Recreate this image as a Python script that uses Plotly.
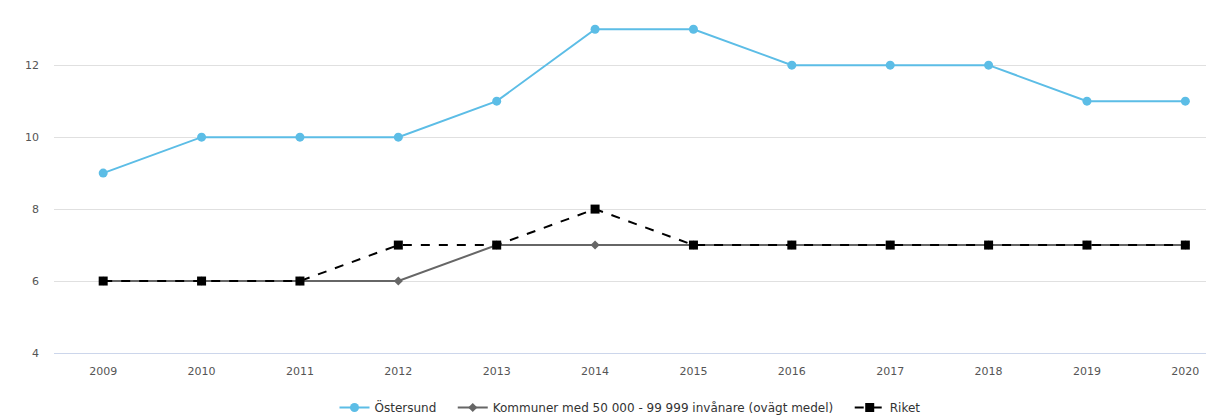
import plotly.graph_objects as go

years = [2009, 2010, 2011, 2012, 2013, 2014, 2015, 2016, 2017, 2018, 2019, 2020]
ostersund = [9, 10, 10, 10, 11, 13, 13, 12, 12, 12, 11, 11]
kommuner = [6, 6, 6, 6, 7, 7, 7, 7, 7, 7, 7, 7]
riket = [6, 6, 6, 7, 7, 8, 7, 7, 7, 7, 7, 7]
y_ticks = [4, 6, 8, 10, 12]

# trailing spaces widen the gap between legend entries
pad = "\u00a0" * 3

fig = go.Figure()
fig.add_trace(go.Scatter(
    x=years, y=ostersund, name="Östersund" + pad, mode="lines+markers",
    line=dict(color="#5cbde6", width=2),
    marker=dict(symbol="circle", size=9, color="#5cbde6"),
))
fig.add_trace(go.Scatter(
    x=years, y=kommuner, name="Kommuner med 50 000 - 99 999 invånare (ovägt medel)" + pad,
    mode="lines+markers",
    line=dict(color="#666666", width=2),
    marker=dict(symbol="diamond", size=7, color="#666666"),
))
fig.add_trace(go.Scatter(
    x=years, y=riket, name="Riket", mode="lines+markers",
    line=dict(color="#000000", width=2, dash="dash"),
    marker=dict(symbol="square", size=9, color="#000000"),
))

fig.update_layout(
    width=1206, height=418,
    margin=dict(l=54, r=0, t=22, b=65, autoexpand=False),
    paper_bgcolor="white", plot_bgcolor="white",
    font=dict(family="DejaVu Sans", size=11, color="#555555"),
    showlegend=True,
    legend=dict(orientation="h", x=0.5, xanchor="center",
                yref="container", y=0.025, yanchor="middle",
                font=dict(size=12, color="#333333"), itemwidth=30),
    xaxis=dict(range=[2008.5, 2020.21], tickvals=years, ticktext=[str(y) for y in years],
               showgrid=False, zeroline=False, showline=True, linecolor="#ccd6eb", linewidth=1,
               ticks="", ticklabelstandoff=8),
    yaxis=dict(range=[4, 13.2], tickvals=y_ticks, showgrid=True, gridcolor="#e0e0e0",
               zeroline=False, showline=False, ticks="", ticklabelstandoff=14),
)

fig.write_html("out.html")
